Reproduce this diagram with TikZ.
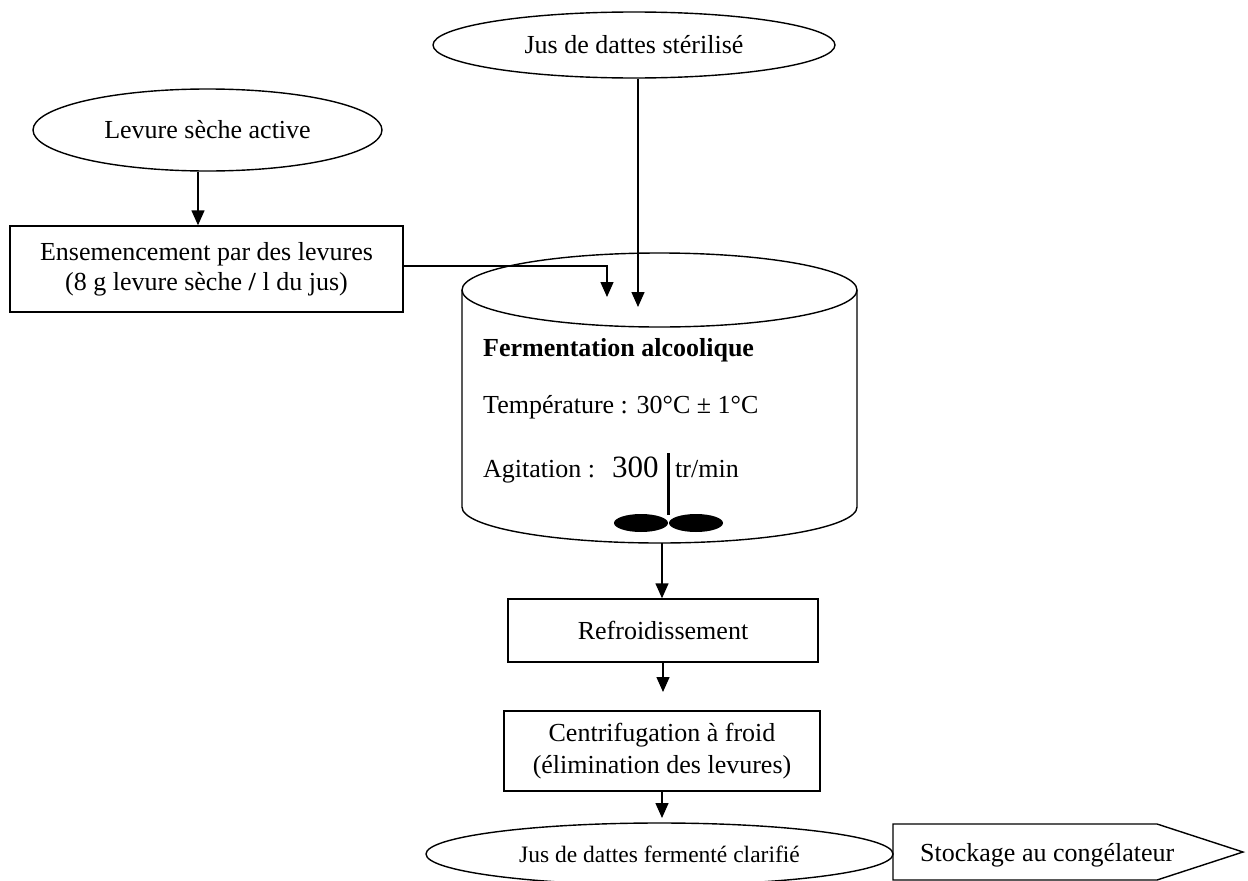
\documentclass[tikz,border=0pt]{standalone}
\usepackage{fontspec}
\setmainfont{Liberation Serif}
\usetikzlibrary{shapes.geometric,arrows.meta}

\begin{document}
\begin{tikzpicture}[x=1pt,y=-1pt,
  every node/.style={font=\fontsize{26}{30}\selectfont, inner sep=0pt},
  oval/.style={draw, ellipse, line width=1.4pt},
  stepbox/.style={draw, rectangle, line width=1.4pt, align=center},
  flow/.style={line width=1.4pt, -{Triangle[length=15pt,width=13pt]}},
  ]
\useasboundingbox (0,0) rectangle (1248,881);
\clip (0,0) rectangle (1248,881);

% inputs
\node[oval, minimum width=402pt, minimum height=66pt] (jus) at (634,45) {Jus de dattes stérilisé};
\node[oval, minimum width=349pt, minimum height=82pt] (lev) at (207.5,130) {Levure sèche active};

% seeding step
\node[stepbox, minimum width=393pt, minimum height=86pt] (ens) at (206.5,269)
  {Ensemencement par des levures\\(8 g levure sèche \textbf{/} l du jus)};

% fermenter vessel
\draw[line width=1.4pt] (659.5,290) ellipse [x radius=197.5pt, y radius=37pt];
\draw[line width=1.4pt] (462,290) -- (462,507)
  arc[start angle=180, end angle=360, x radius=197.5pt, y radius=36pt] -- (857,290);

\node[anchor=base west, font=\fontsize{26}{30}\selectfont\bfseries] (titre) at (483,356) {Fermentation alcoolique};
\node[anchor=base west] (temp) at (483,413) {Température : 30°C ± 1°C};
\node[anchor=base west] (agit) at (483,477) {Agitation :};
\node[anchor=base west, font=\fontsize{31}{36}\selectfont] (vit) at (612,477) {300};
\node[anchor=base west] (unit) at (675,477) {tr/min};

% stirrer
\draw[line width=3pt] (668,453) -- (668,515);
\fill (641,523) ellipse [x radius=27pt, y radius=9pt];
\fill (696,523) ellipse [x radius=27pt, y radius=9pt];

% downstream steps
\node[stepbox, minimum width=310pt, minimum height=63pt] (refr) at (663,630.5) {Refroidissement};
\node[stepbox, minimum width=316pt, minimum height=80pt] (cent) at (662,751)
  {Centrifugation à froid\\[2pt](élimination des levures)};
\node[oval, minimum width=467pt, minimum height=62pt, font=\fontsize{23.5}{27}\selectfont] (final) at (659.5,854)
  {Jus de dattes fermenté clarifié};

% storage tag
\coordinate (s1) at (893,824);
\coordinate (s2) at (1157,824);
\coordinate (s3) at (1243,852);
\coordinate (s4) at (1157,880);
\coordinate (s5) at (893,880);
\draw[line width=1.4pt] (s1) -- (s2) -- (s3) -- (s4) -- (s5) -- cycle;
\node[anchor=base west] (stock) at (920,861) {Stockage au congélateur};

% connector end points
\coordinate (levx) at (198,0);
\coordinate (fermin) at (638,307);
\coordinate (ensy) at (0,266);
\coordinate (ensin) at (607,297);
\coordinate (fermout) at (662,543);
\coordinate (c1) at (663,692);
\coordinate (c2) at (662,818);

% connectors
\draw[flow] (lev.south -| levx) -- (ens.north -| levx);
\draw[flow] (jus.south -| fermin) -- (fermin);
\draw[flow] (ens.east |- ensy) -| (ensin);
\draw[flow] (fermout) -- (fermout |- refr.north);
\draw[flow] (refr.south) -- (c1);
\draw[flow] (cent.south) -- (c2);
\end{tikzpicture}
\end{document}
